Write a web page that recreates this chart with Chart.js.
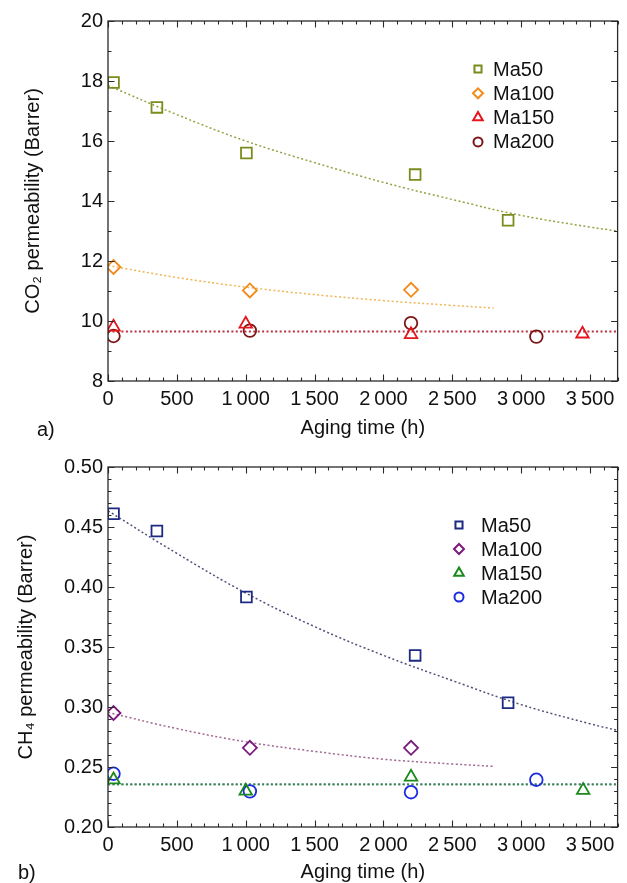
<!DOCTYPE html>
<html><head><meta charset="utf-8">
<script src="https://cdn.jsdelivr.net/npm/chart.js@4.4.1/dist/chart.umd.min.js"></script>
<style>
html,body{margin:0;padding:0;background:#fff;width:627px;height:883px;overflow:hidden;font-family:"Liberation Sans",Arial,sans-serif;}
.panel{position:absolute;left:0;width:627px;}
#p1{top:0;height:440px;}
#p2{top:440px;height:443px;}
.tag{position:absolute;font-size:20px;color:#111;line-height:20px;}
</style></head><body>
<div class="panel" id="p1"><canvas id="c1" width="627" height="440"></canvas></div>
<div class="panel" id="p2"><canvas id="c2" width="627" height="443"></canvas></div>
<div class="tag" style="left:37px;top:419px">a)</div>
<div class="tag" style="left:18px;top:862px">b)</div>
<script>
// ---------- shared axis ----------
const xTickValues = [0, 500, 1000, 1500, 2000, 2500, 3000, 3500];
const xTickLabels = ['0', '500', '1\u2009000', '1\u2009500', '2\u2009000', '2\u2009500', '3\u2009000', '3\u2009500'];
const seriesNames = ['Ma50', 'Ma100', 'Ma150', 'Ma200'];

// ---------- a) CO2 ----------
const co2TickValues = [8, 10, 12, 14, 16, 18, 20];
const co2TickLabels = ['8', '10', '12', '14', '16', '18', '20'];
const co2_Ma50_t = [40, 355, 1005, 2230, 2905];
const co2_Ma50 = [17.95, 17.12, 15.6, 14.88, 13.36];
const co2_Ma100_t = [40, 1030, 2200];
const co2_Ma100 = [11.8, 11.02, 11.04];
const co2_Ma150_t = [40, 1000, 2200, 3445];
const co2_Ma150 = [9.8, 9.9, 9.55, 9.57];
const co2_Ma200_t = [40, 1030, 2200, 3110];
const co2_Ma200 = [9.5, 9.68, 9.93, 9.48];
const co2_fit50_t = [0, 500, 1000, 1500, 2000, 2500, 3000, 3500, 3700];
const co2_fit50 = [17.85, 16.88, 16.0, 15.28, 14.62, 14.05, 13.52, 13.13, 13.0];
const co2_fit100_t = [0, 500, 1000, 1500, 2000, 2500, 2800];
const co2_fit100 = [11.85, 11.45, 11.13, 10.88, 10.68, 10.52, 10.43];
const co2_flat_t = [0, 3700];
const co2_flat = [9.65, 9.65];

// ---------- b) CH4 ----------
const ch4TickValues = [0.20, 0.25, 0.30, 0.35, 0.40, 0.45, 0.50];
const ch4TickLabels = ['0.20', '0.25', '0.30', '0.35', '0.40', '0.45', '0.50'];
const ch4_Ma50_t = [40, 355, 1005, 2230, 2905];
const ch4_Ma50 = [0.461, 0.4467, 0.3917, 0.343, 0.3036];
const ch4_Ma100_t = [40, 1030, 2200];
const ch4_Ma100 = [0.295, 0.266, 0.266];
const ch4_Ma150_t = [40, 1000, 2200, 3450];
const ch4_Ma150 = [0.2394, 0.230, 0.2417, 0.2306];
const ch4_Ma200_t = [40, 1030, 2200, 3110];
const ch4_Ma200 = [0.2444, 0.2297, 0.229, 0.2394];
const ch4_fit50_t = [0, 500, 1000, 1500, 2000, 2500, 3000, 3500, 3700];
const ch4_fit50 = [0.4635, 0.428, 0.395, 0.367, 0.343, 0.322, 0.302, 0.286, 0.2805];
const ch4_fit100_t = [0, 500, 1000, 1500, 2000, 2500, 2800];
const ch4_fit100 = [0.2955, 0.282, 0.271, 0.263, 0.2565, 0.2525, 0.2505];
const ch4_flat_t = [0, 3700];
const ch4_flat = [0.2355, 0.2355];

// ---------- helpers ----------
const FONT = "'Liberation Sans', Arial, Helvetica, sans-serif";
Chart.defaults.font.family = FONT;
Chart.defaults.font.size = 20;
Chart.defaults.color = '#111';

const pts = (xs, ys) => xs.map((x, i) => ({x: x, y: ys[i]}));
const styles = ['rect', 'rectRot', 'triangle', 'circle'];
const radii = [7.6, 7, 7.2, 6.3];

function markerSet(name, i, xs, ys, color) {
  return {label: name, data: pts(xs, ys), showLine: false, pointStyle: styles[i],
    pointRadius: radii[i], pointHoverRadius: radii[i], pointBorderWidth: 1.8,
    borderColor: color, backgroundColor: 'rgba(0,0,0,0)', legendIdx: i};
}
function fitSet(xs, ys, color, w) {
  return {label: 'fit', data: pts(xs, ys), showLine: true, pointRadius: 0, pointHoverRadius: 0,
    borderColor: color, borderWidth: w || 1.5, borderDash: [2, 2.4], tension: 0.4, fill: false,
    backgroundColor: 'rgba(0,0,0,0)'};
}

const frameTicks = {
  id: 'frameTicks',
  afterDraw(chart, args, o) {
    const {ctx, chartArea: a, scales} = chart;
    const x = scales.x, y = scales.y;
    ctx.save();
    ctx.strokeStyle = '#2a2a2a';
    ctx.lineWidth = 1.3;
    ctx.strokeRect(a.left, a.top, a.right - a.left, a.bottom - a.top);
    ctx.lineWidth = 1.1;
    ctx.beginPath();
    const nx = Math.round((x.max - x.min) / o.xMinor);
    for (let k = 0; k <= nx; k++) {
      const v = x.min + k * o.xMinor;
      const L = (k % o.xMajorEvery === 0) ? 6.5 : 3.5;
      const px = Math.round(x.getPixelForValue(v)) + 0.5;
      ctx.moveTo(px, a.bottom); ctx.lineTo(px, a.bottom - L);
      ctx.moveTo(px, a.top); ctx.lineTo(px, a.top + L);
    }
    const ny = Math.round((y.max - y.min) / o.yMinor);
    for (let k = 0; k <= ny; k++) {
      const v = y.min + k * o.yMinor;
      const L = (k % o.yMajorEvery === 0) ? 6.5 : 3.5;
      const py = Math.round(y.getPixelForValue(v)) + 0.5;
      ctx.moveTo(a.left, py); ctx.lineTo(a.left + L, py);
      ctx.moveTo(a.right, py); ctx.lineTo(a.right - L, py);
    }
    ctx.stroke();
    ctx.restore();
  }
};

const innerLegend = {
  id: 'innerLegend',
  afterDatasetsDraw(chart, args, o) {
    const {ctx} = chart;
    ctx.save();
    chart.data.datasets.forEach(ds => {
      if (ds.legendIdx === undefined) return;
      const i = ds.legendIdx;
      const cy = o.y0 + i * o.dy;
      ctx.strokeStyle = ds.borderColor;
      ctx.fillStyle = 'rgba(0,0,0,0)';
      ctx.lineWidth = 2;
      Chart.helpers.drawPoint(ctx, {pointStyle: ds.pointStyle, radius: o.r[i], rotation: 0, borderWidth: 2}, o.mx, cy);
      ctx.fillStyle = '#111';
      ctx.font = '20px ' + FONT;
      ctx.textBaseline = 'middle';
      ctx.textAlign = 'left';
      ctx.fillText(ds.label, o.tx, cy + 1);
    });
    ctx.restore();
  }
};

function makeChart(id, datasets, yMin, yMax, yVals, yLabels, yTitle, cfg) {
  return new Chart(document.getElementById(id), {
    type: 'scatter',
    data: {datasets: datasets},
    plugins: [frameTicks, innerLegend],
    options: {
      responsive: false, animation: false, devicePixelRatio: 1,
      layout: {padding: {top: cfg.padTop, right: cfg.padRight, left: 0, bottom: 0}},
      plugins: {legend: {display: false}, tooltip: {enabled: false},
        frameTicks: cfg.ticks, innerLegend: cfg.legend},
      scales: {
        x: {type: 'linear', min: 0, max: 3700,
          afterBuildTicks: s => { s.ticks = xTickValues.map(v => ({value: v})); },
          afterFit: s => { s.height = cfg.xHeight; },
          grid: {display: false, drawTicks: false}, border: {display: false},
          ticks: {padding: cfg.xTickPad, maxRotation: 0, minRotation: 0, autoSkip: false,
            callback: (v, k) => xTickLabels[k]},
          title: {display: true, text: 'Aging time (h)', font: {size: 20, lineHeight: 1.0}, color: '#111',
            padding: {top: 0, bottom: cfg.xTitlePad}}},
        y: {type: 'linear', min: yMin, max: yMax,
          afterBuildTicks: s => { s.ticks = yVals.map(v => ({value: v})); },
          afterFit: s => { s.width = 108; },
          grid: {display: false, drawTicks: false}, border: {display: false},
          ticks: {padding: 5, autoSkip: false, callback: (v, k) => yLabels[k]},
          title: {display: true, text: yTitle, font: {size: 20, lineHeight: 1.0}, color: '#111',
            padding: {top: cfg.yTitlePad, bottom: 0}}}
      }
    }
  });
}

// ---------- chart a ----------
makeChart('c1', [
  markerSet(seriesNames[0], 0, co2_Ma50_t, co2_Ma50, '#7b8b1c'),
  markerSet(seriesNames[1], 1, co2_Ma100_t, co2_Ma100, '#f28a1a'),
  markerSet(seriesNames[2], 2, co2_Ma150_t, co2_Ma150, '#e6141c'),
  markerSet(seriesNames[3], 3, co2_Ma200_t, co2_Ma200, '#7c1616'),
  fitSet(co2_fit50_t, co2_fit50, '#98a040'),
  fitSet(co2_fit100_t, co2_fit100, '#f0b454'),
  fitSet(co2_flat_t, co2_flat, '#b8303e', 1.8)
], 8, 20, co2TickValues, co2TickLabels, 'CO\u2082 permeability (Barrer)', {
  padTop: 21, padRight: 7, xHeight: 59, xTickPad: 6, xTitlePad: 2, yTitlePad: 23,
  ticks: {xMinor: 100, xMajorEvery: 5, yMinor: 1, yMajorEvery: 2},
  legend: {mx: 478, tx: 493, y0: 69, dy: 24.3, r: [5, 5, 5.5, 4.5]}
});

// ---------- chart b ----------
makeChart('c2', [
  markerSet(seriesNames[0], 0, ch4_Ma50_t, ch4_Ma50, '#1e2a82'),
  markerSet(seriesNames[1], 1, ch4_Ma100_t, ch4_Ma100, '#7a1a7a'),
  markerSet(seriesNames[2], 2, ch4_Ma150_t, ch4_Ma150, '#1a8a1c'),
  markerSet(seriesNames[3], 3, ch4_Ma200_t, ch4_Ma200, '#1c2ae0'),
  fitSet(ch4_fit50_t, ch4_fit50, '#50507a'),
  fitSet(ch4_fit100_t, ch4_fit100, '#a06890'),
  fitSet(ch4_flat_t, ch4_flat, '#3a8a3a', 1.8),
  fitSet(ch4_flat_t, ch4_flat, '#4a64d0', 1.8)
], 0.20, 0.50, ch4TickValues, ch4TickLabels, 'CH\u2084 permeability (Barrer)', {
  padTop: 27, padRight: 6, xHeight: 56, xTickPad: 6, xTitlePad: 1, yTitlePad: 16,
  ticks: {xMinor: 100, xMajorEvery: 5, yMinor: 0.01, yMajorEvery: 5},
  legend: {mx: 459, tx: 481, y0: 85, dy: 24, r: [5, 5, 5.5, 4.5]}
});
</script>
</body></html>
